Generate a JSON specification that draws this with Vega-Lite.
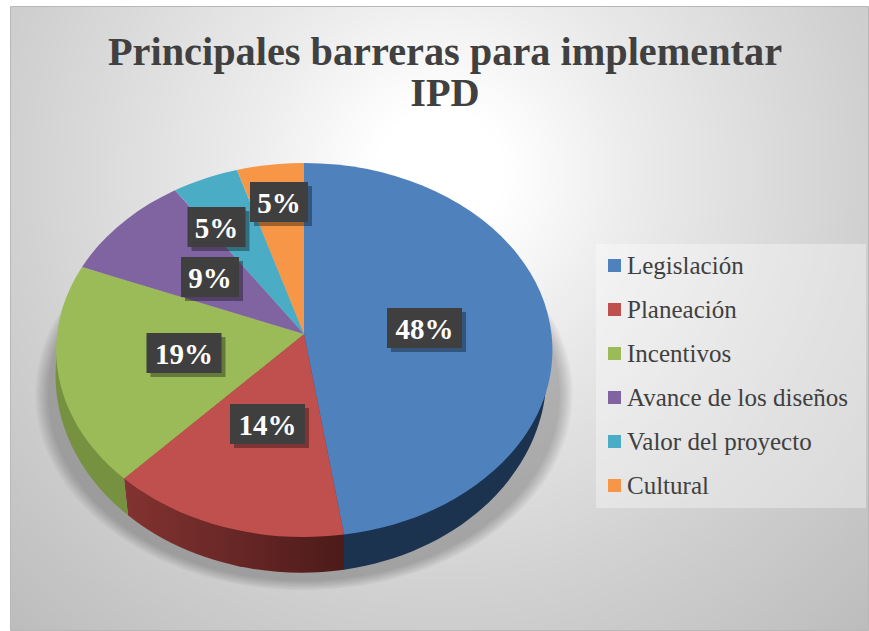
{
"$schema":"https://vega.github.io/schema/vega-lite/v6.json",
"width":858,"height":624,
"autosize":{"type":"none"},
"padding":{"left":10,"top":6,"right":1,"bottom":1},
"background":"#ffffff",
"config":{"view":{"stroke":"#b8b8b8","strokeWidth":1,"fill":{"gradient":"radial","x1":0.5,"y1":0.33,"r1":0,"x2":0.5,"y2":0.33,"r2":0.735,"stops":[{"offset":0,"color":"#ffffff"},{"offset":0.1,"color":"#ffffff"},{"offset":0.3,"color":"#ececec"},{"offset":0.68,"color":"#d0d0d0"},{"offset":1,"color":"#bcbcbc"}]}},"font":"Liberation Serif"},
"title":{"text":["Principales barreras para implementar","IPD"],"anchor":"middle","frame":"group","baseline":"top","offset":-26,"dx":6,"dy":82,"fontSize":40.3,"lineHeight":41,"font":"Liberation Serif","fontWeight":"bold","color":"#404040"},
"resolve":{"scale":{"shape":"independent"}},
"datasets":{
"sectores":[
{"categoria":"Legislación","valor":48,"etiqueta":"48%","ex":424.5,"ey":328},
{"categoria":"Planeación","valor":14,"etiqueta":"14%","ex":267.5,"ey":424},
{"categoria":"Incentivos","valor":19,"etiqueta":"19%","ex":184,"ey":353},
{"categoria":"Avance de los diseños","valor":9,"etiqueta":"9%","ex":210,"ey":277},
{"categoria":"Valor del proyecto","valor":5,"etiqueta":"5%","ex":216.5,"ey":227},
{"categoria":"Cultural","valor":5,"etiqueta":"5%","ex":279,"ey":202}
],
"sombra":[{"nivel":1},{"nivel":2},{"nivel":3},{"nivel":4},{"nivel":5},{"nivel":6},{"nivel":7}]
},
"layer":[
{"data":{"name":"sombra"},"mark":{"type":"point","filled":true,"color":"#000000","opacity":0.036,"stroke":null,"shape":"M-256,0A256,187 0 1 1 256,0A256,187 0 1 1 -256,0Z"},
"encoding":{"x":{"datum":304,"type":"quantitative","axis":null,"scale":{"domain":[10,868],"nice":false,"zero":false}},"y":{"datum":394,"type":"quantitative","axis":null,"scale":{"domain":[630,6],"nice":false,"zero":false}},"size":{"field":"nivel","type":"quantitative","legend":null,"scale":{"domain":[1,7],"range":[4,4.4],"zero":false}}}},
{"data":{"values":[{"a":596,"b":866,"c":244,"d":508}]},"mark":{"type":"rect","fill":"#ffffff","opacity":0.35},
"encoding":{"x":{"field":"a","type":"quantitative","axis":null},"x2":{"field":"b"},"y":{"field":"c","type":"quantitative","axis":null},"y2":{"field":"d"}}},
{"data":{"name":"sectores"},"transform":[{"filter":"datum.categoria==='Legislación'"}],"mark":{"type":"point","filled":true,"opacity":1,"stroke":null,"size":4,"fill":"#1c3350","shape":"M40,200.6L40,235.7A245.5,197.7 0 0 0 241,20L0,0Z"},
"encoding":{"x":{"datum":304,"type":"quantitative","axis":null},"y":{"datum":334,"type":"quantitative","axis":null}}},
{"data":{"name":"sectores"},"transform":[{"filter":"datum.categoria==='Planeación'"}],"mark":{"type":"point","filled":true,"opacity":1,"stroke":null,"size":4,"fill":{"gradient":"linear","x1":0,"y1":0,"x2":1,"y2":0,"stops":[{"offset":0,"color":"#833331"},{"offset":1,"color":"#4c1b1a"}]},"shape":"M40,200.6L40,235.7A245.5,197.7 0 0 1 -176,181.3L-180,144.6L0,0Z"},
"encoding":{"x":{"datum":304,"type":"quantitative","axis":null},"y":{"datum":334,"type":"quantitative","axis":null}}},
{"data":{"name":"sectores"},"transform":[{"filter":"datum.categoria==='Incentivos'"}],"mark":{"type":"point","filled":true,"opacity":1,"stroke":null,"size":4,"fill":"#76913f","shape":"M-180,144.6L-176,181.3A245.5,197.7 0 0 1 -247.1,20L0,0Z"},
"encoding":{"x":{"datum":304,"type":"quantitative","axis":null},"y":{"datum":334,"type":"quantitative","axis":null}}},
{"data":{"name":"sectores"},"mark":{"type":"point","filled":true,"opacity":1,"stroke":null,"size":4},
"encoding":{
"x":{"datum":304,"type":"quantitative","axis":null},
"y":{"datum":334,"type":"quantitative","axis":null},
"color":{"field":"categoria","type":"nominal","sort":null,"scale":{"domain":["Legislación","Planeación","Incentivos","Avance de los diseños","Valor del proyecto","Cultural"],"range":["#4f81bd","#c0504d","#9bbb59","#8064a2","#4bacc6","#f79646"]},
"legend":{"title":null,"orient":"none","legendX":592,"legendY":247,"symbolType":"square","symbolSize":169,"symbolOpacity":1,"symbolStrokeWidth":0,"labelFont":"Liberation Serif","labelFontSize":25,"labelColor":"#404040","labelOffset":0,"rowPadding":18,"labelLimit":300,"padding":0}},
"shape":{"field":"categoria","type":"nominal","legend":null,"scale":{"domain":["Legislación","Planeación","Incentivos","Avance de los diseños","Valor del proyecto","Cultural"],"range":["M0,0L0,-171A248,187 0 0 1 40,200.6Z","M0,0L40,200.6A248,187 0 0 1 -180,144.6Z","M0,0L-180,144.6A248,187 0 0 1 -222,-67Z","M0,0L-222,-67A248,187 0 0 1 -129,-143.7Z","M0,0L-129,-143.7A248,187 0 0 1 -67,-164Z","M0,0L-67,-164A248,187 0 0 1 0,-171Z"]}}}},
{"data":{"name":"sectores"},"mark":{"type":"point","filled":true,"opacity":0.35,"color":"#000000","stroke":null,"size":4,"xOffset":4,"yOffset":4},
"encoding":{"x":{"field":"ex","type":"quantitative","axis":null},"y":{"field":"ey","type":"quantitative","axis":null},
"shape":{"field":"etiqueta","type":"nominal","legend":null,"scale":{"domain":["48%","14%","19%","9%","5%"],"range":["M-37.5,-20H37.5V20H-37.5Z","M-37.5,-20H37.5V20H-37.5Z","M-37.5,-20H37.5V20H-37.5Z","M-29,-20H29V20H-29Z","M-29,-20H29V20H-29Z"]}}}},
{"data":{"name":"sectores"},"mark":{"type":"point","filled":true,"opacity":1,"color":"#3f3f3f","stroke":null,"size":4},
"encoding":{"x":{"field":"ex","type":"quantitative","axis":null},"y":{"field":"ey","type":"quantitative","axis":null},
"shape":{"field":"etiqueta","type":"nominal","legend":null,"scale":{"domain":["48%","14%","19%","9%","5%"],"range":["M-37.5,-20H37.5V20H-37.5Z","M-37.5,-20H37.5V20H-37.5Z","M-37.5,-20H37.5V20H-37.5Z","M-29,-20H29V20H-29Z","M-29,-20H29V20H-29Z"]}}}},
{"data":{"name":"sectores"},"mark":{"type":"text","font":"Liberation Serif","fontWeight":"bold","fontSize":29,"color":"#ffffff","align":"center","baseline":"middle","dy":2},
"encoding":{"x":{"field":"ex","type":"quantitative","axis":null},"y":{"field":"ey","type":"quantitative","axis":null},"text":{"field":"etiqueta"}}}
]
}
